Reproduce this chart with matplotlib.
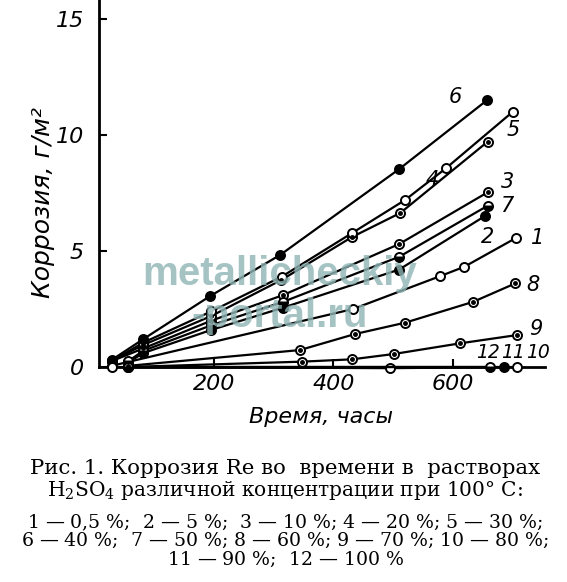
import matplotlib
matplotlib.use('Agg')
import matplotlib.pyplot as plt

plt.rcParams['mathtext.fontset'] = 'dejavuserif'
plt.rcParams['font.family'] = ['DejaVu Sans']

# ---- data (time in hours, corrosion in g/m^2) ----
t1 = [29, 433, 579, 619, 706]
y1 = [0.05, 2.5, 3.92, 4.32, 5.57]
t2 = [57, 82, 196, 315, 510, 653]
y2 = [0.2, 0.6, 1.6, 2.55, 4.2, 6.5]
t3 = [29, 82, 196, 316, 510, 658]
y3 = [0.25, 0.8, 2.0, 3.1, 5.3, 7.53]
t4 = [29, 82, 196, 313, 431, 512, 658]
y4 = [0.25, 0.95, 2.2, 3.75, 5.6, 6.64, 9.71]
t5 = [29, 82, 196, 314, 431, 520, 588, 700]
y5 = [0.25, 1.05, 2.4, 3.9, 5.77, 7.2, 8.56, 11.0]
t6 = [29, 82, 194, 311, 510, 657]
y6 = [0.3, 1.2, 3.06, 4.83, 8.53, 11.5]
t7 = [57, 82, 196, 315, 510, 658]
y7 = [0.25, 0.7, 1.8, 2.8, 4.75, 6.95]
t8 = [57, 344, 436, 520, 634, 704]
y8 = [0.05, 0.73, 1.42, 1.91, 2.81, 3.6]
t9 = [57, 347, 431, 501, 612, 708]
y9 = [0.0, 0.23, 0.33, 0.56, 1.02, 1.38]
t10 = [29, 495, 707]
y10 = [0.0, -0.05, 0.0]
t11 = [57, 686]
y11 = [0.0, 0.0]
t12 = [57, 662]
y12 = [0.0, 0.0]

curve_labels = ["1", "2", "3", "4", "5", "6", "7", "8", "9", "10", "11", "12"]
x_ticks = [200, 400, 600]
y_ticks = [0, 5, 10, 15]
x_label = "Время, часы"
y_label = "Коррозия, г/м²"
caption_main = ["Рис. 1. Коррозия Re во  времени в  растворах",
                "H$_2$SO$_4$ различной концентрации при 100° C:"]
caption_keys = [
    "$\\mathit{1}$ — 0,5 %;  $\\mathit{2}$ — 5 %;  $\\mathit{3}$ — 10 %; $\\mathit{4}$ — 20 %; $\\mathit{5}$ — 30 %;",
    "$\\mathit{6}$ — 40 %;  $\\mathit{7}$ — 50 %; $\\mathit{8}$ — 60 %; $\\mathit{9}$ — 70 %; $\\mathit{10}$ — 80 %;",
    "$\\mathit{11}$ — 90 %;  $\\mathit{12}$ — 100 %",
]

series_t = [t1, t2, t3, t4, t5, t6, t7, t8, t9, t10, t11, t12]
series_y = [y1, y2, y3, y4, y5, y6, y7, y8, y9, y10, y11, y12]

# ---- styles ----
marker_style = ["open", "full", "dot", "dot", "open", "full",
                "half", "dot", "dot", "open", "full", "half"]
label_offset_px = [(21, 0), (3, -21), (20, 10), (-55, -38), (0, -18), (-32, 3),
                   (19, 0), (18, -2), (18, 6), (21, 15), (9, 15), (-2, 15)]

W, H = 567, 582
fig = plt.figure(figsize=(W / 100, H / 100), dpi=100)
ax_l, ax_r, ax_t, ax_b = 99, 545, 0, 367
ax = fig.add_axes([ax_l / W, 1 - ax_b / H, (ax_r - ax_l) / W, (ax_b - ax_t) / H])
ax.set_xlim(8, 754)
ax.set_ylim(0, 15.82)

for i in range(12):
    t, y = series_t[i], series_y[i]
    st = marker_style[i]
    kw = dict(color='black', lw=1.6, marker='o', ms=6.5, mec='black', mew=1.4,
              clip_on=False, zorder=3)
    if st == "full":
        ax.plot(t, y, mfc='black', **kw)
    elif st == "open":
        ax.plot(t, y, mfc='white', **kw)
    elif st == "half":
        ax.plot(t, y, mfc='black', fillstyle='bottom', markerfacecoloralt='white', **kw)
    else:
        ax.plot(t, y, mfc='white', **kw)
        ax.plot(t, y, ls='none', marker='o', ms=2.5, color='black', clip_on=False, zorder=4)
    dx, dy = label_offset_px[i]
    ax.annotate(curve_labels[i], (t[-1], y[-1]), xytext=(dx, dy),
                textcoords='offset pixels', ha='center', va='center',
                fontsize=15 if len(curve_labels[i]) == 1 else 13.5,
                style='italic', color='black', zorder=5)

for s in ['top', 'right']:
    ax.spines[s].set_visible(False)
ax.spines['left'].set_linewidth(2)
ax.spines['bottom'].set_linewidth(2)
ax.set_xticks(x_ticks)
ax.set_yticks(y_ticks)
ax.tick_params(axis='both', direction='in', length=6, width=1.5, labelsize=16)
ax.tick_params(axis='y', pad=11)
ax.tick_params(axis='x', pad=5)
for lab in ax.get_xticklabels() + ax.get_yticklabels():
    lab.set_fontstyle('italic')

fig.text(43 / W, 1 - 203 / H, y_label, rotation=90, ha='center', va='center',
         fontsize=18, style='italic')
fig.text(321 / W, 1 - 417 / H, x_label, ha='center', va='center',
         fontsize=16, style='italic')

# watermark
fig.text(280 / W, 1 - 285 / H, "metallicheckiy", family='Liberation Sans', weight='bold',
         fontsize=29, color='#8fb5b5', alpha=0.8, ha='center', va='baseline', zorder=10)
fig.text(280 / W, 1 - 327 / H, "-portal.ru", family='Liberation Sans', weight='bold',
         fontsize=29, color='#8fb5b5', alpha=0.8, ha='center', va='baseline', zorder=10)

# caption
fig.text(285 / W, 1 - 474 / H, caption_main[0], family='DejaVu Serif', fontsize=15.3,
         ha='center', va='baseline')
fig.text(285 / W, 1 - 496 / H, caption_main[1], family='DejaVu Serif', fontsize=14.5,
         ha='center', va='baseline')
for k, yy in enumerate([528, 546, 565]):
    fig.text(285 / W, 1 - yy / H, caption_keys[k], family='DejaVu Serif', fontsize=13.6,
             ha='center', va='baseline')

fig.savefig('out.png', dpi=100)
